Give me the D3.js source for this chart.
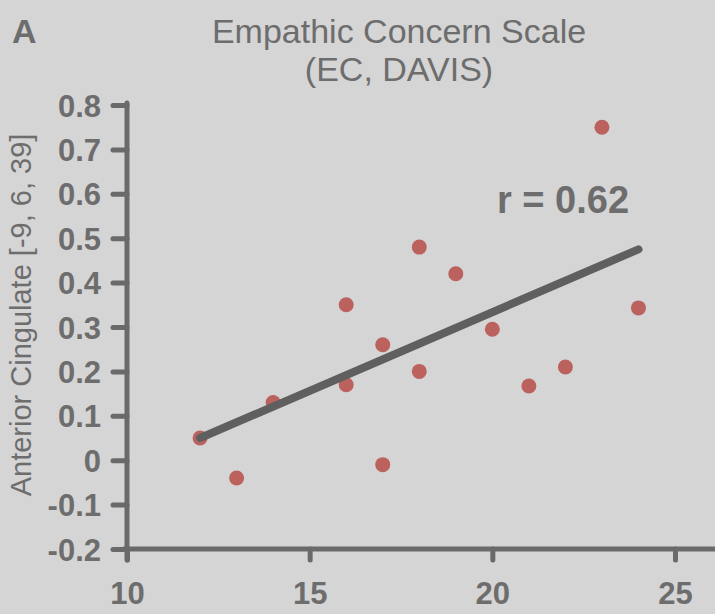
<!DOCTYPE html>
<html>
<head>
<meta charset="utf-8">
<script src="https://cdn.jsdelivr.net/npm/d3@7"></script>
<style>
  html, body { margin: 0; padding: 0; background: #d5d5d5; }
  svg { display: block; }
  text { font-family: "Liberation Sans", Arial, sans-serif; fill: #6d6d6d; }
</style>
</head>
<body>
<svg id="chart" width="715" height="614"></svg>
<script>
// ---- data ----
const ecScores   = [12, 13, 14, 16, 16, 17, 17, 18, 18, 19, 20, 21, 22, 23, 24];
const acValues   = [0.05, -0.04, 0.13, 0.35, 0.17, 0.26, -0.01, 0.48, 0.20, 0.42, 0.295, 0.167, 0.21, 0.75, 0.343];
const fitX       = [12, 24];
const fitY       = [0.05, 0.475];
const xTicks     = [10, 15, 20, 25];
const xTickLabels = ["10", "15", "20", "25"];
const yTicks     = [0.8, 0.7, 0.6, 0.5, 0.4, 0.3, 0.2, 0.1, 0, -0.1, -0.2];
const yTickLabels = ["0.8", "0.7", "0.6", "0.5", "0.4", "0.3", "0.2", "0.1", "0", "-0.1", "-0.2"];
const titleLines = ["Empathic Concern Scale", "(EC, DAVIS)"];
const panelLabel = "A";
const yLabel     = "Anterior Cingulate [-9, 6, 39]";
const rLabel     = "r = 0.62";

// ---- drawing ----
const svg = d3.select("#chart");
const axisColor = "#6a6a6a";
const x = d3.scaleLinear().domain([10, 25]).range([127, 675]);
const y = d3.scaleLinear().domain([-0.2, 0.8]).range([549, 105]);

// title
svg.append("text").attr("x", 12).attr("y", 43)
  .style("font-size", "34px").style("font-weight", "bold").text(panelLabel);
svg.selectAll(".title").data(titleLines).enter().append("text")
  .attr("class", "title")
  .attr("x", 399).attr("y", (d, i) => 43 + i * 38)
  .attr("text-anchor", "middle")
  .style("font-size", "34px")
  .text(d => d);

// y axis
const yAxis = d3.axisLeft(y).tickValues(yTicks)
  .tickFormat((d, i) => yTickLabels[i]).tickSize(14).tickPadding(12).tickSizeOuter(0);
const gy = svg.append("g").attr("transform", "translate(127,0)").call(yAxis);
gy.select(".domain").remove();
gy.selectAll(".tick line").attr("stroke", axisColor).attr("stroke-width", 5).attr("stroke-linecap", "round");
gy.selectAll(".tick text").style("font-size", "31px").style("font-weight", "bold")
  .attr("fill", "#6d6d6d").attr("dy", "0.36em");
gy.append("line").attr("x1", 0).attr("x2", 0).attr("y1", y(0.8) - 2).attr("y2", y(-0.2) + 11)
  .attr("stroke", axisColor).attr("stroke-width", 5).attr("stroke-linecap", "round");

// x axis
const xAxis = d3.axisBottom(x).tickValues(xTicks)
  .tickFormat((d, i) => xTickLabels[i]).tickSize(11).tickPadding(22).tickSizeOuter(0);
const gx = svg.append("g").attr("transform", "translate(0,549)").call(xAxis);
gx.select(".domain").remove();
gx.selectAll(".tick line").attr("stroke", axisColor).attr("stroke-width", 5).attr("stroke-linecap", "round");
gx.selectAll(".tick text").style("font-size", "31px").style("font-weight", "bold")
  .attr("fill", "#6d6d6d").attr("dy", "0.71em");
gx.append("line").attr("x1", x(10) - 4).attr("x2", 715).attr("y1", 0).attr("y2", 0)
  .attr("stroke", axisColor).attr("stroke-width", 5);

// y label
svg.append("text")
  .attr("transform", "translate(31,315) rotate(-90)")
  .attr("text-anchor", "middle")
  .style("font-size", "29px")
  .text(yLabel);

// points
const pts = ecScores.map((v, i) => ({ x: v, y: acValues[i] }));
svg.selectAll(".pt").data(pts).enter().append("circle")
  .attr("class", "pt")
  .attr("cx", d => x(d.x)).attr("cy", d => y(d.y))
  .attr("r", 7.5)
  .attr("fill", "#bb625e");

// fit line
const fit = fitX.map((v, i) => [v, fitY[i]]);
svg.append("path")
  .attr("d", d3.line().x(d => x(d[0])).y(d => y(d[1]))(fit))
  .attr("stroke", "#5f5f5f").attr("stroke-width", 8)
  .attr("stroke-linecap", "round").attr("fill", "none");

// r label
svg.append("text").attr("x", 497).attr("y", 213)
  .style("font-size", "38px").style("font-weight", "bold")
  .text(rLabel);
</script>
</body>
</html>
